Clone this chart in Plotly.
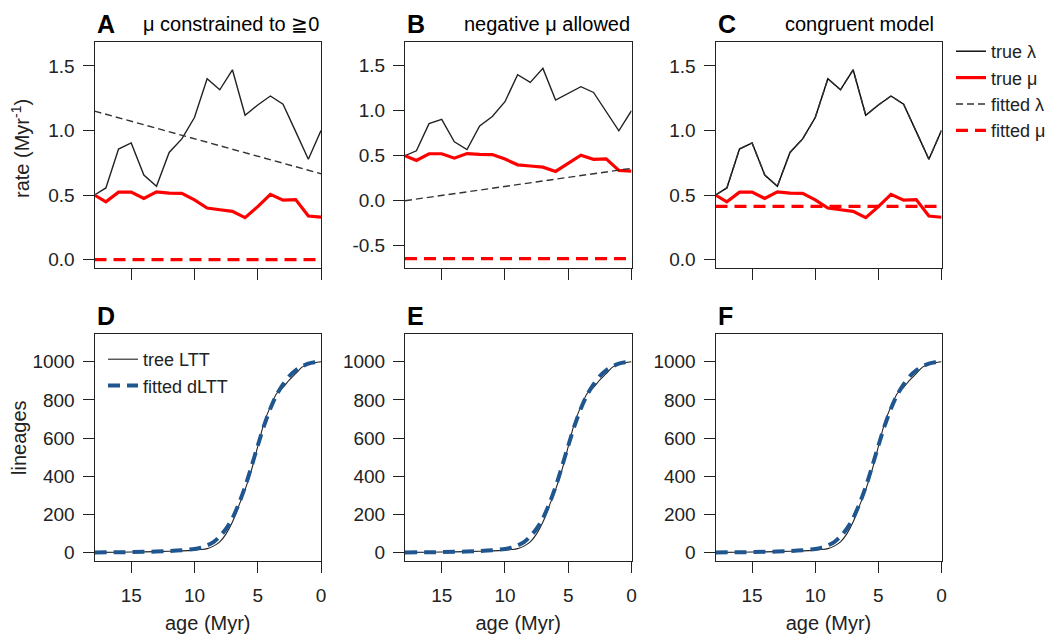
import plotly.graph_objects as go

# ---------------- data ----------------
ages_rate = [17.9, 17, 16, 15, 14, 13, 12, 11, 10, 9, 8, 7, 6, 5, 4, 3, 2, 1, 0]
true_lambda = [0.50, 0.555, 0.856, 0.903, 0.655, 0.568, 0.83, 0.935, 1.10, 1.40,
               1.315, 1.47, 1.118, 1.197, 1.267, 1.203, 0.991, 0.777, 1.0]
true_mu = [0.50, 0.447, 0.522, 0.522, 0.473, 0.524, 0.515, 0.513, 0.463, 0.399,
           0.386, 0.373, 0.325, 0.41, 0.505, 0.46, 0.465, 0.337, 0.328]

fit_ages = [17.9, 0]
fit_lambda_A = [1.15, 0.665]
fit_mu_A = [0.0, 0.0]
fit_lambda_B = [0.0, 0.36]
fit_mu_B = [-0.643, -0.643]
fit_lambda_C = true_lambda
fit_mu_C = [0.412, 0.412]

ages_ltt = [17.9, 16, 14, 12, 11, 10, 9.5, 9, 8.5, 8, 7.5, 7, 6.5, 6, 5.5, 5,
            4.5, 4, 3.5, 3, 2.5, 2, 1.5, 1, 0.5, 0]
tree_ltt = [1, 2, 4, 7, 9, 13, 16, 21, 34, 56, 98, 160, 245, 330, 432, 555,
            680, 765, 834, 866, 905, 938, 972, 987, 995, 1000]
fitted_dltt = [1, 2, 4, 8, 12, 19, 26, 38, 55, 85, 125, 180, 255, 345, 450, 560,
               665, 755, 828, 882, 925, 955, 976, 990, 997, 1000]

panel_letters = ["A", "B", "C", "D", "E", "F"]
panel_titles = ["μ constrained to ≧0", "negative μ allowed", "congruent model"]
x_ticks = [15, 10, 5, 0]
rate_ticks_AC = [0.0, 0.5, 1.0, 1.5]
rate_ticks_B = [-0.5, 0.0, 0.5, 1.0, 1.5]
ltt_ticks = [0, 200, 400, 600, 800, 1000]

# ---------------- style ----------------
W, H = 1047, 634
FONT = "Liberation Sans, Arial, Helvetica, sans-serif"
INK = "#222222"
RED = "#ff0000"
BLUE = "#20568f"

col_px = [(94.5, 321.0), (405.0, 631.5), (715.5, 941.5)]
row_px = [(42.3, 267.7), (334.3, 561.0)]

def xdom(c):
    return [col_px[c][0] / W, col_px[c][1] / W]

def ydom(r):
    return [1 - row_px[r][1] / H, 1 - row_px[r][0] / H]

fig = go.Figure()

fits = [
    (fit_lambda_A, fit_mu_A),
    (fit_lambda_B, fit_mu_B),
    (fit_lambda_C, fit_mu_C),
]

for c in range(3):
    xa = "x" if c == 0 else f"x{c+1}"
    ya = "y" if c == 0 else f"y{c+1}"
    leg = (c == 2)
    flam, fmu = fits[c]
    fl_x = ages_rate if c == 2 else fit_ages
    fig.add_trace(go.Scatter(x=ages_rate, y=true_lambda, mode="lines", name="true λ",
                             line=dict(color="#000000" if c == 2 else INK, width=1.4),
                             xaxis=xa, yaxis=ya, showlegend=leg, legend="legend"))
    fig.add_trace(go.Scatter(x=ages_rate, y=true_mu, mode="lines", name="true μ",
                             line=dict(color=RED, width=3.2),
                             xaxis=xa, yaxis=ya, showlegend=leg, legend="legend"))
    fig.add_trace(go.Scatter(x=fl_x, y=flam, mode="lines", name="fitted λ",
                             line=dict(color="#333333", width=1.4, dash="7px,4px"),
                             xaxis=xa, yaxis=ya, showlegend=leg, legend="legend"))
    fig.add_trace(go.Scatter(x=fit_ages, y=fmu, mode="lines", name="fitted μ",
                             line=dict(color=RED, width=3.2, dash="12px,7px"),
                             xaxis=xa, yaxis=ya, showlegend=leg, legend="legend"))

for c in range(3):
    xa = f"x{c+4}"
    ya = f"y{c+4}"
    leg = (c == 0)
    fig.add_trace(go.Scatter(x=ages_ltt, y=tree_ltt, mode="lines", name="tree LTT",
                             line=dict(color=INK, width=1.1, shape="spline", smoothing=0.8),
                             xaxis=xa, yaxis=ya, showlegend=leg, legend="legend2"))
    fig.add_trace(go.Scatter(x=ages_ltt, y=fitted_dltt, mode="lines", name="fitted dLTT",
                             line=dict(color=BLUE, width=4, dash="12px,7px", shape="spline", smoothing=0.8),
                             xaxis=xa, yaxis=ya, showlegend=leg, legend="legend2"))

axis_common = dict(showline=True, mirror=True, linecolor=INK, linewidth=1,
                   ticks="outside", ticklen=11, tickwidth=1, tickcolor=INK,
                   showgrid=False, zeroline=False,
                   tickfont=dict(family=FONT, size=19, color=INK))

layout = dict(width=W, height=H, paper_bgcolor="white", plot_bgcolor="white",
              margin=dict(l=0, r=0, t=0, b=0, autoexpand=False),
              font=dict(family=FONT, size=19, color=INK))

for i in range(6):
    r, c = divmod(i, 3)
    xk = "xaxis" if i == 0 else f"xaxis{i+1}"
    yk = "yaxis" if i == 0 else f"yaxis{i+1}"
    xid = "x" if i == 0 else f"x{i+1}"
    yid = "y" if i == 0 else f"y{i+1}"
    xa = dict(axis_common, domain=xdom(c), anchor=yid, range=[17.9, 0],
              tickmode="array", tickvals=x_ticks, ticktext=[str(v) for v in x_ticks],
              ticklabelstandoff=6)
    if r == 0:
        xa["showticklabels"] = False
    else:
        xa["title"] = dict(text="age (Myr)", font=dict(family=FONT, size=20, color=INK), standoff=11)
    if r == 0:
        ticks = rate_ticks_B if c == 1 else rate_ticks_AC
        rng = [-0.744, 1.76] if c == 1 else [-0.063, 1.683]
        ya = dict(axis_common, domain=ydom(r), anchor=xid, range=rng,
                  tickmode="array", tickvals=ticks, ticktext=[f"{v:.1f}" for v in ticks],
                  ticklabelstandoff=4)
    else:
        ya = dict(axis_common, domain=ydom(r), anchor=xid, range=[-44, 1144],
                  tickmode="array", tickvals=ltt_ticks, ticktext=[str(v) for v in ltt_ticks],
                  ticklabelstandoff=4)
    layout[xk] = xa
    layout[yk] = ya

annotations = []
for i, letter in enumerate(panel_letters):
    r, c = divmod(i, 3)
    ytop = 24 if r == 0 else 316
    annotations.append(dict(text=f"<b>{letter}</b>", xref="paper", yref="paper",
                            x=col_px[c][0] / W, y=1 - ytop / H, xanchor="left", yanchor="middle",
                            showarrow=False, font=dict(family=FONT, size=25, color="#000000")))
for c, t in enumerate(panel_titles):
    xr = col_px[c][1] - (6 if c == 2 else 0)
    annotations.append(dict(text=t, xref="paper", yref="paper",
                            x=xr / W, y=1 - 24 / H, xanchor="right", yanchor="middle",
                            showarrow=False, font=dict(family=FONT, size=20, color="#000000")))
# y-axis titles
annotations.append(dict(text="rate (Myr<sup>-1</sup>)", xref="paper", yref="paper",
                        x=20 / W, y=1 - 149 / H, xanchor="center", yanchor="middle",
                        textangle=-90, showarrow=False,
                        font=dict(family=FONT, size=20, color=INK)))
annotations.append(dict(text="lineages", xref="paper", yref="paper",
                        x=19 / W, y=1 - 438 / H, xanchor="center", yanchor="middle",
                        textangle=-90, showarrow=False,
                        font=dict(family=FONT, size=20, color=INK)))
layout["annotations"] = annotations

layout["legend"] = dict(x=951 / W, y=1 - 33 / H, xanchor="left", yanchor="top",
                        bgcolor="rgba(0,0,0,0)", borderwidth=0,
                        font=dict(family=FONT, size=18, color=INK), tracegroupgap=0)
layout["legend2"] = dict(x=103 / W, y=1 - 341 / H, xanchor="left", yanchor="top",
                         bgcolor="rgba(0,0,0,0)", borderwidth=0,
                         font=dict(family=FONT, size=18, color=INK), tracegroupgap=0)

fig.update_layout(**layout)
fig.write_html("out.html")
